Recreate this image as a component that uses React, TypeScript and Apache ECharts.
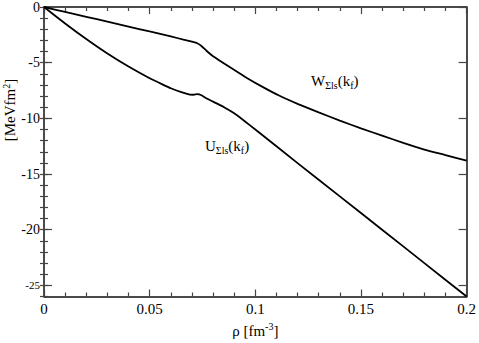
import React, { useEffect, useRef } from "react";
import * as echarts from "echarts";

const FONT = "Liberation Serif";

const X_TICKS = [0, 0.05, 0.1, 0.15, 0.2];
const Y_TICKS = [0, -5, -10, -15, -20, -25];
const Y_MINOR = [0, -1, -2, -3, -4, -5, -6, -7, -8, -9, -10, -11, -12, -13, -14, -15, -16, -17, -18, -19, -20, -21, -22, -23, -24, -25, -26];

// W_Σls(k_f)
const W_RHO = [0, 0.01, 0.02, 0.03, 0.04, 0.05, 0.06, 0.066, 0.07, 0.0725, 0.0745, 0.077, 0.08, 0.0875, 0.0954, 0.1032, 0.111, 0.12, 0.13, 0.14, 0.15, 0.16, 0.17, 0.18, 0.19, 0.2];
const W_VAL = [0, -0.44, -0.88, -1.32, -1.76, -2.2, -2.64, -2.93, -3.12, -3.26, -3.5, -3.95, -4.42, -5.35, -6.3, -7.15, -7.93, -8.7, -9.47, -10.2, -10.9, -11.55, -12.2, -12.8, -13.3, -13.8];

// U_Σls(k_f)
const U_RHO = [0, 0.01, 0.02, 0.03, 0.04, 0.05, 0.056, 0.06, 0.065, 0.069, 0.0708, 0.0726, 0.0745, 0.0766, 0.08, 0.085, 0.09, 0.095, 0.1, 0.12, 0.14, 0.16, 0.18, 0.2];
const U_VAL = [0, -1.48, -2.88, -4.18, -5.35, -6.4, -6.95, -7.3, -7.65, -7.87, -7.88, -7.83, -7.93, -8.17, -8.5, -8.98, -9.55, -10.26, -11.0, -14.02, -17.01, -20.0, -23.0, -26.0];

const W_LABEL = "{n|W}{s|Σls}{n|(k}{s|f}{n|)}";
const U_LABEL = "{n|U}{s|Σls}{n|(k}{s|f}{n|)}";

const pairs = (xs: number[], ys: number[]) => xs.map((x, i) => [x, ys[i]]);

const richSub = {
  n: { fontFamily: FONT, fontSize: 15, color: "#000", lineHeight: 20, verticalAlign: "middle" },
  s: { fontFamily: FONT, fontSize: 10, color: "#000", lineHeight: 10, verticalAlign: "bottom" },
};

export default function App() {
  const ref = useRef<HTMLDivElement>(null);

  useEffect(() => {
    if (!ref.current) return;
    const chart = echarts.init(ref.current, null, { renderer: "svg" });
    const axisLine = { show: true, onZero: false, lineStyle: { color: "#111", width: 1.5 } };
    const tickStyle = { color: "#444", width: 1.2 };
    const baseX = {
      type: "value",
      min: 0,
      max: 0.2,
      interval: 0.05,
      axisLine,
      axisTick: { show: true, inside: true, length: 7, lineStyle: tickStyle },
      minorTick: { show: true, splitNumber: 5, length: 4, lineStyle: tickStyle },
      splitLine: { show: false },
      minorSplitLine: { show: false },
    };
    const option: any = {
      animation: false,
      textStyle: { fontFamily: FONT },
      grid: { left: 44, right: 10, top: 5, bottom: 41 },
      xAxis: [
        {
          ...baseX,
          position: "bottom",
          axisLabel: {
            fontFamily: FONT,
            fontSize: 15,
            color: "#000",
            margin: 5,
            formatter: (v: number) => (X_TICKS.includes(v) ? String(v) : ""),
          },
          name: "{n|ρ [fm}{sup|-3}{n|]}",
          nameLocation: "middle",
          nameGap: 25,
          nameTextStyle: {
            fontFamily: FONT,
            rich: {
              n: { fontFamily: FONT, fontSize: 15, color: "#000", lineHeight: 18, verticalAlign: "middle" },
              sup: { fontFamily: FONT, fontSize: 10, color: "#000", lineHeight: 10, verticalAlign: "top" },
            },
          },
        },
        { ...baseX, position: "top", axisLabel: { show: false } },
      ],
      yAxis: [
        {
          type: "value",
          min: -26,
          max: 0,
          position: "left",
          axisLine,
          axisTick: { show: true, inside: true, length: 8, customValues: Y_TICKS, lineStyle: tickStyle },
          axisLabel: {
            customValues: Y_TICKS,
            fontFamily: FONT,
            fontSize: 14,
            color: "#000",
            margin: 4,
            formatter: (v: number) => (v === -25 ? "{sm|-25}" : String(v)),
            rich: { sm: { fontFamily: FONT, fontSize: 11, color: "#000" } },
          },
          splitLine: { show: false },
        },
        {
          type: "value",
          min: -26,
          max: 0,
          position: "right",
          axisLine,
          axisTick: { show: true, inside: true, length: 8, customValues: Y_TICKS, lineStyle: tickStyle },
          axisLabel: { show: false },
          splitLine: { show: false },
        },
        {
          type: "value",
          min: -26,
          max: 0,
          position: "left",
          axisLine: { show: false },
          axisTick: { show: true, inside: true, length: 4, customValues: Y_MINOR, lineStyle: tickStyle },
          axisLabel: { show: false },
          splitLine: { show: false },
        },
        {
          type: "value",
          min: -26,
          max: 0,
          position: "right",
          axisLine: { show: false },
          axisTick: { show: true, inside: true, length: 4, customValues: Y_MINOR, lineStyle: tickStyle },
          axisLabel: { show: false },
          splitLine: { show: false },
        },
      ],
      graphic: [
        {
          type: "text",
          left: 311,
          top: 73,
          style: { text: W_LABEL, rich: richSub },
        },
        {
          type: "text",
          left: 205,
          top: 138,
          style: { text: U_LABEL, rich: richSub },
        },
        {
          type: "text",
          x: 10,
          y: 110,
          rotation: Math.PI / 2,
          style: {
            text: "{n|[MeVfm}{sup|2}{n|]}",
            align: "center",
            verticalAlign: "middle",
            rich: {
              n: { fontFamily: FONT, fontSize: 15, color: "#000", lineHeight: 18, verticalAlign: "middle" },
              sup: { fontFamily: FONT, fontSize: 10, color: "#000", lineHeight: 10, verticalAlign: "top" },
            },
          },
        },
      ],
      series: [
        {
          type: "line",
          data: pairs(W_RHO, W_VAL),
          xAxisIndex: 0,
          yAxisIndex: 0,
          showSymbol: false,
          smooth: 0.15,
          lineStyle: { color: "#000", width: 1.8 },
        },
        {
          type: "line",
          data: pairs(U_RHO, U_VAL),
          xAxisIndex: 0,
          yAxisIndex: 0,
          showSymbol: false,
          smooth: 0.15,
          lineStyle: { color: "#000", width: 1.8 },
        },
      ],
    };
    chart.setOption(option);
    return () => chart.dispose();
  }, []);

  return (
    <div
      ref={ref}
      style={{ position: "absolute", left: 0, top: 0, width: 479, height: 343, background: "#fff" }}
    />
  );
}
